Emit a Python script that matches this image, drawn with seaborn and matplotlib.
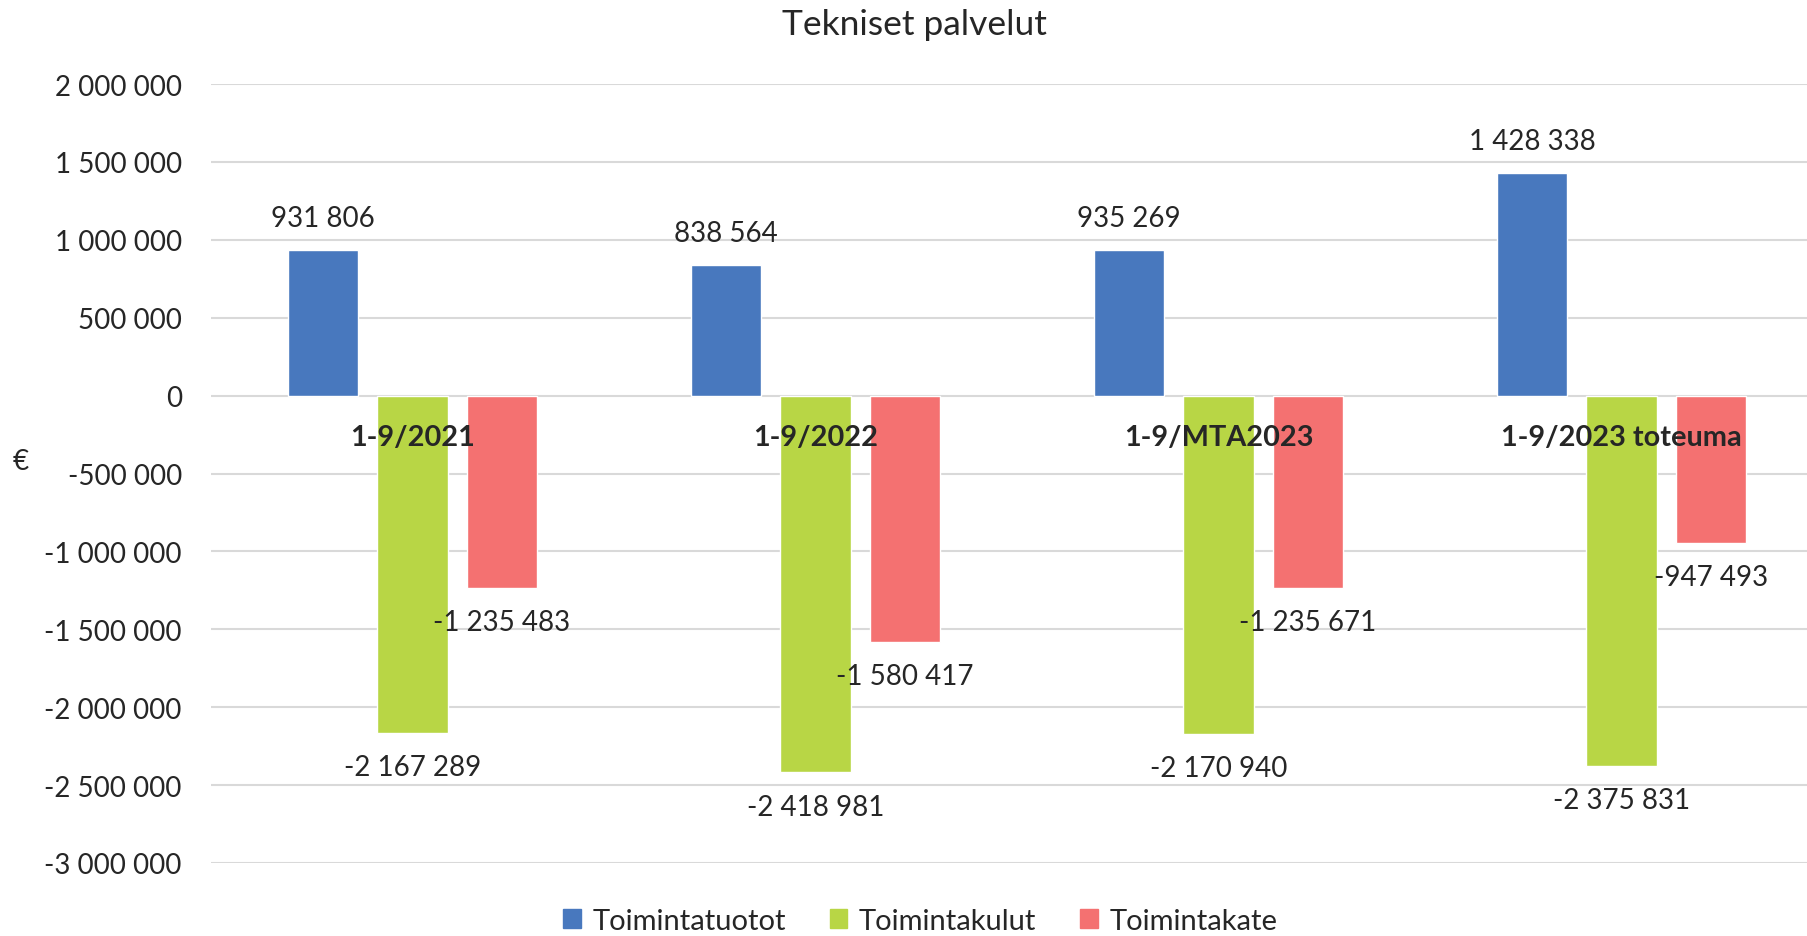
import pandas as pd
import matplotlib.pyplot as plt
import seaborn as sns

# Data
categories = ["1-9/2021", "1-9/2022", "1-9/MTA2023", "1-9/2023 toteuma"]
series_names = ["Toimintatuotot", "Toimintakulut", "Toimintakate"]
tuotot = [931806, 838564, 935269, 1428338]
kulut = [-2167289, -2418981, -2170940, -2375831]
kate = [-1235483, -1580417, -1235671, -947493]
yticks = [2000000, 1500000, 1000000, 500000, 0, -500000, -1000000,
          -1500000, -2000000, -2500000, -3000000]
colors = ["#4878BE", "#B8D645", "#F47171"]


def fmt(v):
    return f"{v:,}".replace(",", " ")


df = pd.DataFrame({
    "kausi": categories * 3,
    "sarja": [series_names[0]] * 4 + [series_names[1]] * 4 + [series_names[2]] * 4,
    "arvo": tuotot + kulut + kate,
})

sns.set_style("white")
plt.rcParams["font.family"] = ["Lato", "DejaVu Sans"]

fig = plt.figure(figsize=(18.08, 9.37), dpi=100)
# plot area runs slightly past the right edge of the figure, as in the original
ax = fig.add_axes([211 / 1808, 1 - 864 / 937, (1823 - 211) / 1808, (864 - 85) / 937])

sns.barplot(data=df, x="kausi", y="arvo", hue="sarja", order=categories,
            hue_order=series_names, palette=colors, saturation=1,
            width=0.665, gap=0.213, errorbar=None, ax=ax, legend=False,
            zorder=2)

ax.set_ylim(-3000000, 2000000)
ax.set_xlim(-0.5, 3.5)
ax.set_yticks(yticks)
ax.set_yticklabels([fmt(t) for t in yticks], fontsize=20)
ax.tick_params(axis="y", length=0, pad=21)
ax.set_xticks([])
ax.set_xlabel("")
ax.set_ylabel("€", rotation=0, fontsize=20)
ax.yaxis.set_label_coords(-(211 - 21) / (1823 - 211), 0.5)
ax.grid(axis="y", color="#D9D9D9", linewidth=1.5, zorder=0)
ax.set_axisbelow(True)
for s in ax.spines.values():
    s.set_visible(False)

# Value labels
for cont in ax.containers:
    for bar in cont:
        h = bar.get_height()
        if bar.get_y() < 0:
            h = bar.get_y()
        x = bar.get_x() + bar.get_width() / 2
        off = 23 if h >= 0 else -24.5
        ax.annotate(fmt(int(round(h))), xy=(x, h), xytext=(0, off),
                    textcoords="offset points", ha="center", va="center",
                    fontsize=20, zorder=5)

# Category labels near the zero line
for i, c in enumerate(categories):
    ax.annotate(c, xy=(i, 0), xytext=(0, -30), textcoords="offset points",
                ha="center", va="center", fontsize=20.8, fontweight="bold",
                zorder=6)

fig.text(914 / 1808, 1 - 25 / 937, "Tekniset palvelut", ha="center",
         va="center", fontsize=25.5)

handles = [plt.Rectangle((0, 0), 1, 1, color=c) for c in colors]
fig.legend(handles, series_names, loc="center", bbox_to_anchor=(0.509, 0.016),
           ncol=3, frameon=False, fontsize=21, handlelength=0.6,
           handleheight=0.6, handletextpad=0.4, columnspacing=1.5)

fig.savefig("out.png", dpi=100)
